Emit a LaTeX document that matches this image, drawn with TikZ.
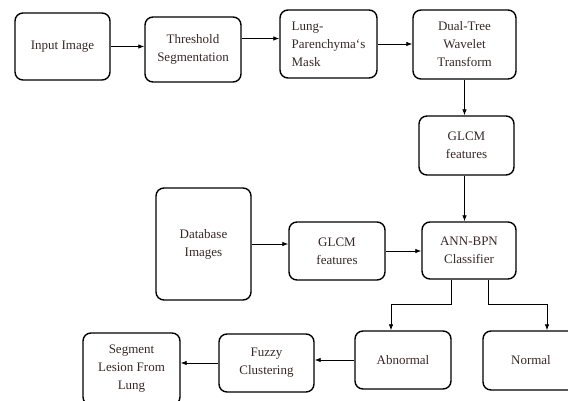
\documentclass[tikz,border=0pt]{standalone}
\usepackage{fontspec}
\setmainfont{Liberation Serif}
\usepackage{tikz}
\usetikzlibrary{shapes}
\usetikzlibrary{arrows.meta}
\definecolor{boxtext}{RGB}{58,40,40}
\tikzset{
	blk/.style={draw=black,line width=1.4pt,rounded corners=8pt,fill=white,
		minimum width=95pt,minimum height=58pt,inner sep=2pt,align=center,
		text=boxtext,font=\fontsize{13}{18}\selectfont},
	flow/.style={line width=0.8pt,-{Latex[length=6pt,width=4.5pt]}}
}
\begin{document}
\begin{tikzpicture}[x=1pt,y=-1pt]
			
			% 画布大小
			\useasboundingbox (0,0) rectangle (568,401);
			\clip (0,0) rectangle (568,401);
			
			% 第一行节点
			\node[blk,minimum height=67pt] (input) at (62.5,46.5) {Input Image};
			\node[blk,minimum width=96pt,minimum height=65pt] (thresh) at (193,49.5) {Threshold\\Segmentation};
			\node[blk,minimum width=97pt,minimum height=68pt,align=left] (mask) at (328.5,44) {Lung-\\Parenchyma`s\\Mask};
			\node[blk,minimum width=103pt,minimum height=69pt] (dtwt) at (464.5,44.5) {Dual-Tree\\Wavelet\\Transform};
			
			% 特征提取与分类
			\node[blk,minimum height=59pt] (glcmA) at (466.5,145.5) {GLCM\\features};
			\node[blk,minimum height=112pt] (dbimg) at (203.5,244) {Database\\Images};
			\node[blk,minimum width=96pt] (glcmB) at (337,251) {GLCM\\features};
			\node[blk,minimum width=94pt,minimum height=57pt] (ann) at (469,250.5) {ANN-BPN\\Classifier};
			
			% 结果节点
			\node[blk,minimum width=96pt] (abnorm) at (403,360) {Abnormal};
			\node[blk,minimum width=96pt,minimum height=59pt] (norm) at (531,360.5) {Normal};
			\node[blk] (fuzzy) at (266.5,363) {Fuzzy\\Clustering};
			\node[blk,minimum width=97pt,minimum height=72pt] (lesion) at (131.5,369) {Segment\\Lesion From\\Lung};
			
			% 分支拐点
			\coordinate (brA) at (451,304);
			\coordinate (brB) at (488,304);
			\coordinate (vx) at (464.5,0);
			
			% 绘制连接线
			\draw[flow] (input.east) -- (input.east -| thresh.west);
			\draw[flow] (thresh.east) ++(0,-11) -- (mask.west |- 0,38.5);
			\draw[flow] (mask.east) -- (mask.east -| dtwt.west);
			\draw[flow] (dtwt.south) -- (vx |- glcmA.north);
			\draw[flow] (vx |- glcmA.south) -- (vx |- ann.north);
			\draw[flow] (dbimg.east) -- (dbimg.east -| glcmB.west);
			\draw[flow] (glcmB.east) -- (glcmB.east -| ann.west);
			\draw[flow] (ann.south -| brA) -- (brA) -- (391,304) -- (abnorm.north -| 391,0);
			\draw[flow] (ann.south -| brB) -- (brB) -- (547,304) -- (norm.north -| 547,0);
			\draw[flow] (abnorm.west) -- (fuzzy.east |- abnorm.west);
			\draw[flow] (fuzzy.west) -- (lesion.east |- fuzzy.west);
			
		\end{tikzpicture}
\end{document}
